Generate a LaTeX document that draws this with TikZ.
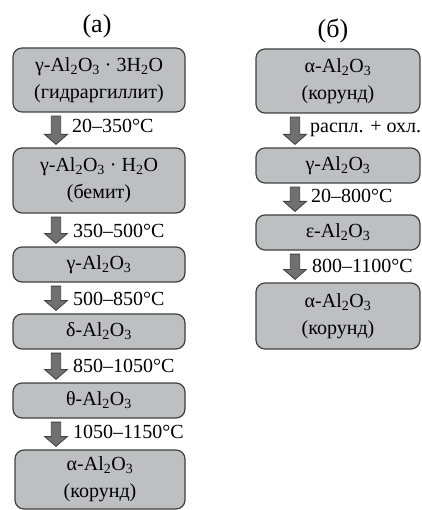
\documentclass[tikz,border=0pt]{standalone}
\usepackage{fontspec}
\setmainfont{Liberation Serif}
\usetikzlibrary{calc}

\definecolor{boxgray}{RGB}{190,191,193}
\definecolor{arrowgray}{RGB}{112,112,112}
\newcommand{\alox}{Al\textsubscript{2}O\textsubscript{3}}

\tikzset{
  phase/.style={draw=black!75, fill=boxgray, rounded corners=9pt, line width=1.2pt,
    inner sep=0pt, align=center, font=\fontsize{20}{27}\selectfont},
  temp/.style={anchor=base west, inner sep=0pt, font=\fontsize{20}{24}\selectfont},
  fatarrow/.style={draw=black!75, fill=arrowgray, line width=0.8pt,
    to path={let \p1=(\tikztostart), \p2=(\tikztotarget) in
      (\x1-4.7pt,\y1-3.5pt) -- (\x1+4.7pt,\y1-3.5pt) -- (\x1+4.7pt,\y2+13pt)
      -- (\x1+11.5pt,\y2+13pt) -- (\x1,\y2+3pt) -- (\x1-11.5pt,\y2+13pt)
      -- (\x1-4.7pt,\y2+13pt) -- cycle}}
}

\begin{document}
\begin{tikzpicture}[x=1pt, y=-1pt]
  \useasboundingbox (0,0) rectangle (421,510);
  \coordinate (ax) at (56,0);
  \coordinate (bx) at (295,0);
  % (a): heating of the hydroxide
  \node[font=\fontsize{26}{28}\selectfont] (ha) at (97,26) {(а)};
  \node[phase, minimum width=172pt, minimum height=64pt] (a1) at (99,80)
    {γ-\alox{} · 3H\textsubscript{2}O\\(гидраргиллит)};
  \node[phase, minimum width=172pt, minimum height=65pt] (a2) at (99,180.5)
    {γ-\alox{} · H\textsubscript{2}O\\(бемит)};
  \node[phase, minimum width=172pt, minimum height=35pt] (a3) at (99,264.5) {γ-\alox};
  \node[phase, minimum width=172pt, minimum height=35pt] (a4) at (99,331.5) {δ-\alox};
  \node[phase, minimum width=172pt, minimum height=35pt] (a5) at (99,400.5) {θ-\alox};
  \node[phase, minimum width=170pt, minimum height=59pt] (a6) at (100,479.5)
    {α-\alox\\(корунд)};
  \draw[fatarrow] (a1.south -| ax) to (a2.north -| ax);
  \draw[fatarrow] (a2.south -| ax) to (a3.north -| ax);
  \draw[fatarrow] (a3.south -| ax) to (a4.north -| ax);
  \draw[fatarrow] (a4.south -| ax) to (a5.north -| ax);
  \draw[fatarrow] (a5.south -| ax) to (a6.north -| ax);
  \node[temp] (ta1) at (72,133) {20–350°C};
  \node[temp] (ta2) at (73,237) {350–500°C};
  \node[temp] (ta3) at (73,305) {500–850°C};
  \node[temp] (ta4) at (73,372) {850–1050°C};
  \node[temp] (ta5) at (73,438) {1050–1150°C};
  % (б): melt and cool the corundum
  \node[font=\fontsize{26}{28}\selectfont] (hb) at (333,31) {(б)};
  \node[phase, minimum width=164pt, minimum height=64pt] (b1) at (338,81)
    {α-\alox\\(корунд)};
  \node[phase, minimum width=164pt, minimum height=35pt] (b2) at (338,165.5) {γ-\alox};
  \node[phase, minimum width=164pt, minimum height=35pt] (b3) at (338,232.5) {ε-\alox};
  \node[phase, minimum width=164pt, minimum height=66pt] (b4) at (338,316)
    {α-\alox\\(корунд)};
  \draw[fatarrow] (b1.south -| bx) to (b2.north -| bx);
  \draw[fatarrow] (b2.south -| bx) to (b3.north -| bx);
  \draw[fatarrow] (b3.south -| bx) to (b4.north -| bx);
  \node[temp] (tb1) at (310,133) {распл. + охл.};
  \node[temp] (tb2) at (311,203) {20–800°C};
  \node[temp] (tb3) at (312,272) {800–1100°C};
\end{tikzpicture}
\end{document}
